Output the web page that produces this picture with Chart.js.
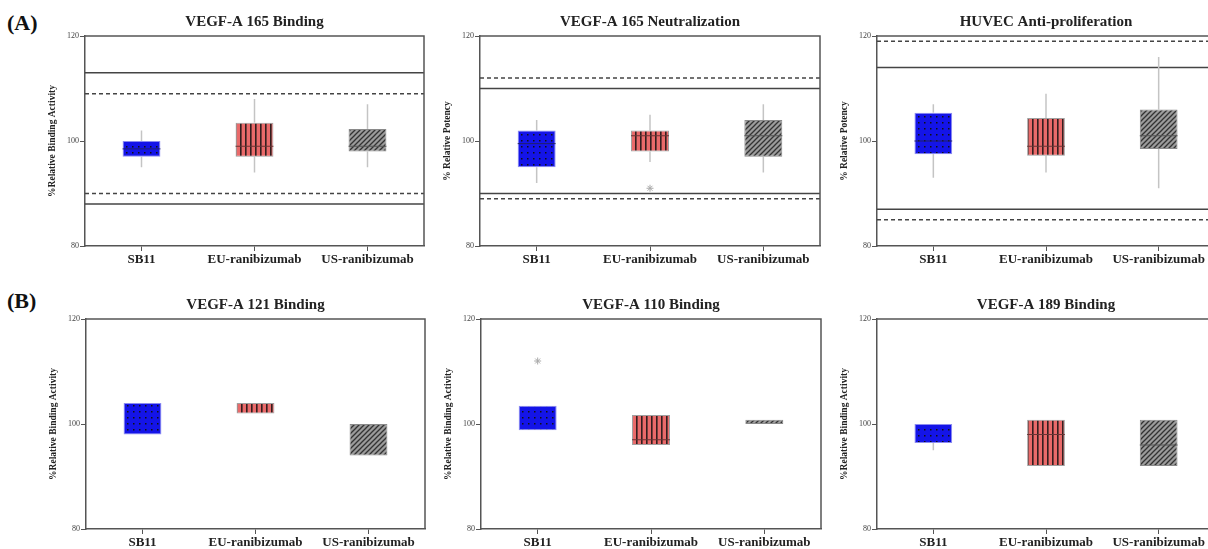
<!DOCTYPE html>
<html lang="en">
<head>
  <meta charset="UTF-8" />
  <title>Box plots of relative activity</title>
  <script src="https://cdn.jsdelivr.net/npm/chart.js"></script>
  <style>
    body {
      margin: 0;
      background: #fff;
      width: 1208px;
      height: 549px;
      overflow: hidden;
      position: relative;
      font-family: 'Liberation Serif', serif;
    }
    canvas { position: absolute; }
    .tag {
      position: absolute;
      font-weight: bold;
      font-size: 22px;
      line-height: 22px;
      color: #111;
    }
  </style>
</head>
<body>
  <div class="tag" style="left:7px; top:12px;">(A)</div>
  <div class="tag" style="left:7px; top:290px;">(B)</div>

  <canvas id="c1" width="389" height="272" style="left:40px; top:0px;"></canvas>
  <canvas id="c2" width="390" height="272" style="left:435px; top:0px;"></canvas>
  <canvas id="c3" width="388" height="272" style="left:832px; top:0px;"></canvas>
  <canvas id="c4" width="389" height="272" style="left:41px; top:283px;"></canvas>
  <canvas id="c5" width="390" height="272" style="left:436px; top:283px;"></canvas>
  <canvas id="c6" width="388" height="272" style="left:832px; top:283px;"></canvas>

  <script>
    const categories = ['SB11', 'EU-ranibizumab', 'US-ranibizumab'];
    const yTicks = [80, 100, 120];

    // (A) VEGF-A 165 Binding
    const bind165Q1 = [97, 97, 98];
    const bind165Q3 = [100, 103.5, 102.3];
    const bind165Median = [98.5, 99, 99];
    const bind165Low = [95, 94, 95];
    const bind165High = [102, 108, 107];
    const bind165Outliers = [null, null, null];
    const bind165Solid = [113, 88];
    const bind165Dashed = [109, 90];

    // (A) VEGF-A 165 Neutralization
    const neut165Q1 = [95, 98, 97];
    const neut165Q3 = [102, 102, 104];
    const neut165Median = [99.5, 101, 101];
    const neut165Low = [92, 96, 94];
    const neut165High = [104, 105, 107];
    const neut165Outliers = [null, 91, null];
    const neut165Solid = [110, 90];
    const neut165Dashed = [112, 89];

    // (A) HUVEC Anti-proliferation
    const huvecQ1 = [97.5, 97.2, 98.5];
    const huvecQ3 = [105.4, 104.4, 106];
    const huvecMedian = [100, 99, 101];
    const huvecLow = [93, 94, 91];
    const huvecHigh = [107, 109, 116];
    const huvecOutliers = [null, null, null];
    const huvecSolid = [114, 87];
    const huvecDashed = [119, 85];

    // (B) VEGF-A 121 Binding
    const bind121Q1 = [98, 102, 94];
    const bind121Q3 = [104, 104, 100];
    const bind121Median = [null, null, null];
    const bind121Low = [null, null, null];
    const bind121High = [null, null, null];
    const bind121Outliers = [null, null, null];

    // (B) VEGF-A 110 Binding
    const bind110Q1 = [98.8, 96, 100];
    const bind110Q3 = [103.5, 101.7, 100.8];
    const bind110Median = [null, 97, null];
    const bind110Low = [null, null, null];
    const bind110High = [null, null, null];
    const bind110Outliers = [112, null, null];

    // (B) VEGF-A 189 Binding
    const bind189Q1 = [96.4, 92, 92];
    const bind189Q3 = [100, 100.8, 100.8];
    const bind189Median = [null, 98, 96];
    const bind189Low = [95, null, null];
    const bind189High = [null, null, null];
    const bind189Outliers = [null, null, null];

    const serif = 'Liberation Serif';

    function makePattern(kind, color) {
      const s = kind === 'dots' ? 6 : (kind === 'diag' ? 5 : 5);
      const c = document.createElement('canvas');
      c.width = s; c.height = s;
      const g = c.getContext('2d');
      g.fillStyle = color;
      g.fillRect(0, 0, s, s);
      if (kind === 'dots') {
        g.fillStyle = '#111';
        g.fillRect(2, 2, 1.5, 1.5);
      } else if (kind === 'vlines') {
        g.fillStyle = '#331f1f';
        g.fillRect(0, 0, 1.6, s);
      } else {
        g.strokeStyle = '#333';
        g.lineWidth = 1.3;
        g.beginPath();
        g.moveTo(0, s); g.lineTo(s, 0);
        g.moveTo(-1, 1); g.lineTo(1, -1);
        g.moveTo(s - 1, s + 1); g.lineTo(s + 1, s - 1);
        g.stroke();
      }
      return g.createPattern(c, 'repeat');
    }

    const fills = [
      makePattern('dots', '#1414e8'),
      makePattern('vlines', '#e96a6a'),
      makePattern('diag', '#9b9b9b')
    ];
    const edges = ['#8c8cf0', '#a0a0a0', '#8a8a8a'];
    const medianColors = ['#20206a', '#6b3434', '#555'];

    function makePanel(id, title, yTitle, q1, q3, median, low, high, outliers, solid, dashed) {
      const extras = {
        id: 'extras',
        beforeDatasetsDraw(chart) {
          const { ctx, chartArea: a, scales: { y } } = chart;
          ctx.save();
          ctx.lineWidth = 1.6;
          ctx.strokeStyle = '#444';
          solid.forEach(v => {
            const py = y.getPixelForValue(v);
            ctx.beginPath(); ctx.moveTo(a.left, py); ctx.lineTo(a.right, py); ctx.stroke();
          });
          ctx.setLineDash([4, 3]);
          dashed.forEach(v => {
            const py = y.getPixelForValue(v);
            ctx.beginPath(); ctx.moveTo(a.left, py); ctx.lineTo(a.right, py); ctx.stroke();
          });
          ctx.setLineDash([]);
          // whiskers
          ctx.strokeStyle = '#c4c4c4';
          ctx.lineWidth = 1.5;
          chart.getDatasetMeta(0).data.forEach((bar, i) => {
            if (high[i] != null) {
              ctx.beginPath(); ctx.moveTo(bar.x, y.getPixelForValue(q3[i]));
              ctx.lineTo(bar.x, y.getPixelForValue(high[i])); ctx.stroke();
            }
            if (low[i] != null) {
              ctx.beginPath(); ctx.moveTo(bar.x, y.getPixelForValue(q1[i]));
              ctx.lineTo(bar.x, y.getPixelForValue(low[i])); ctx.stroke();
            }
          });
          ctx.restore();
        },
        afterDatasetsDraw(chart) {
          const { ctx, scales: { y } } = chart;
          ctx.save();
          ctx.lineWidth = 1;
          chart.getDatasetMeta(0).data.forEach((bar, i) => {
            if (median[i] == null) return;
            const py = y.getPixelForValue(median[i]);
            ctx.strokeStyle = medianColors[i];
            ctx.beginPath(); ctx.moveTo(bar.x - bar.width / 2, py); ctx.lineTo(bar.x + bar.width / 2, py); ctx.stroke();
          });
          ctx.restore();
        },
        afterDraw(chart) {
          const { ctx, chartArea: a } = chart;
          ctx.save();
          ctx.strokeStyle = '#555';
          ctx.lineWidth = 1.5;
          ctx.beginPath();
          ctx.moveTo(a.left, a.top); ctx.lineTo(a.right, a.top); ctx.lineTo(a.right, a.bottom);
          ctx.stroke();
          ctx.restore();
        }
      };

      return new Chart(document.getElementById(id), {
        type: 'bar',
        data: {
          labels: categories,
          datasets: [{
            data: q1.map((v, i) => [v, q3[i]]),
            backgroundColor: fills,
            borderColor: edges,
            borderWidth: 1,
            borderSkipped: false,
            barPercentage: 0.335,
            categoryPercentage: 1,
            order: 2
          }, {
            type: 'line',
            data: outliers,
            showLine: false,
            pointStyle: 'star',
            pointRadius: 3.5,
            borderColor: '#aaa',
            backgroundColor: '#aaa',
            borderWidth: 1,
            order: 1
          }]
        },
        options: {
          responsive: false,
          animation: false,
          devicePixelRatio: 1,
          layout: { padding: { left: 0, right: 4, top: 0, bottom: 0 } },
          scales: {
            x: {
              grid: { offset: false, drawOnChartArea: false, tickLength: 5, color: '#555', lineWidth: 1 },
              border: { color: '#555', width: 1.5 },
              ticks: { color: '#222', padding: 1, font: { family: serif, size: 13, weight: 'bold' } },
              afterFit(scale) { scale.height = 26; }
            },
            y: {
              min: 80,
              max: 120,
              afterBuildTicks(scale) { scale.ticks = yTicks.map(v => ({ value: v })); },
              grid: { drawOnChartArea: false, tickLength: 5, color: '#555', lineWidth: 1 },
              border: { color: '#555', width: 1.5 },
              ticks: { color: '#444', padding: 1, font: { family: serif, size: 8 } },
              title: {
                display: true,
                text: yTitle,
                color: '#222',
                padding: { top: 7, bottom: 0 },
                font: { family: serif, size: 9.5, weight: 'bold' }
              },
              afterFit(scale) { scale.width = 45; }
            }
          },
          plugins: {
            legend: { display: false },
            tooltip: { enabled: false },
            title: {
              display: true,
              text: title,
              fullSize: false,
              color: '#222',
              padding: { top: 13, bottom: 5 },
              font: { family: serif, size: 15, weight: 'bold' }
            }
          }
        },
        plugins: [extras]
      });
    }

    makePanel('c1', 'VEGF-A 165 Binding', '%Relative Binding Activity',
      bind165Q1, bind165Q3, bind165Median, bind165Low, bind165High, bind165Outliers, bind165Solid, bind165Dashed);
    makePanel('c2', 'VEGF-A 165 Neutralization', '% Relative Potency',
      neut165Q1, neut165Q3, neut165Median, neut165Low, neut165High, neut165Outliers, neut165Solid, neut165Dashed);
    makePanel('c3', 'HUVEC Anti-proliferation', '% Relative Potency',
      huvecQ1, huvecQ3, huvecMedian, huvecLow, huvecHigh, huvecOutliers, huvecSolid, huvecDashed);
    makePanel('c4', 'VEGF-A 121 Binding', '%Relative Binding Activity',
      bind121Q1, bind121Q3, bind121Median, bind121Low, bind121High, bind121Outliers, [], []);
    makePanel('c5', 'VEGF-A 110 Binding', '%Relative Binding Activity',
      bind110Q1, bind110Q3, bind110Median, bind110Low, bind110High, bind110Outliers, [], []);
    makePanel('c6', 'VEGF-A 189 Binding', '%Relative Binding Activity',
      bind189Q1, bind189Q3, bind189Median, bind189Low, bind189High, bind189Outliers, [], []);
  </script>
</body>
</html>
